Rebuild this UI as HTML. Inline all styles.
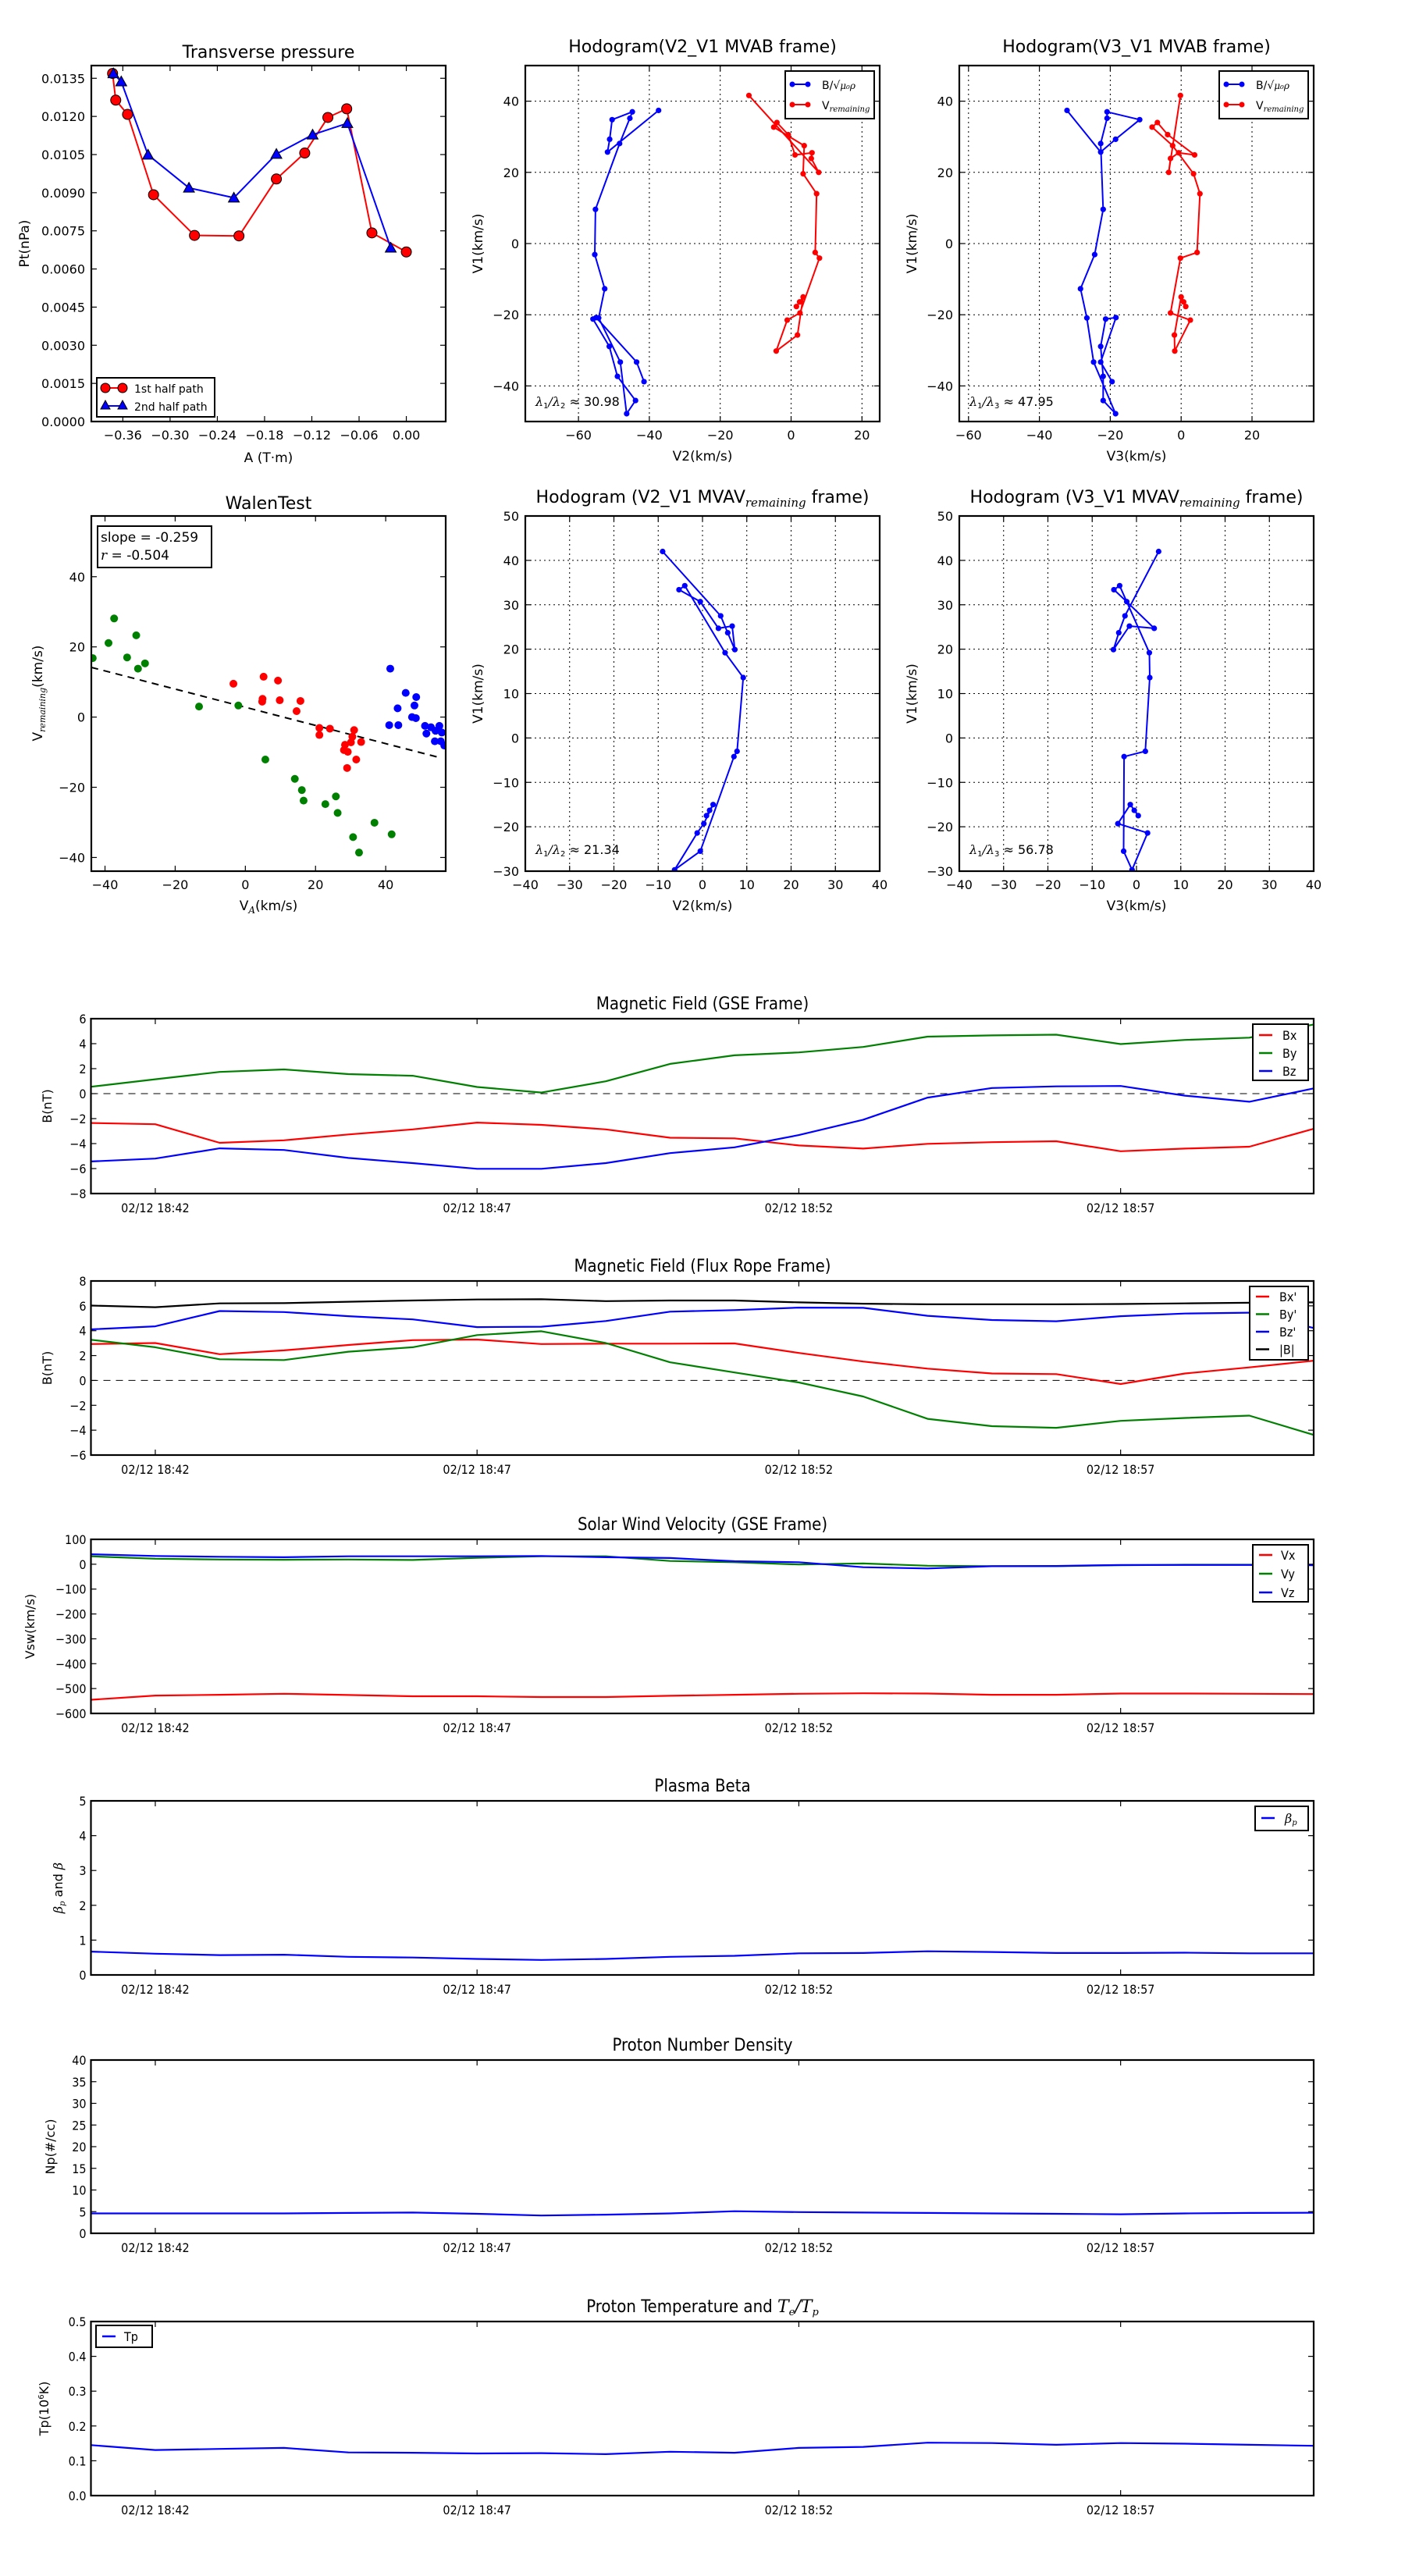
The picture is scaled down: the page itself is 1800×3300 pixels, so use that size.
<!DOCTYPE html>
<html><head><meta charset="utf-8">
<style>
html,body{margin:0;padding:0;background:#fff;}
svg{display:block;}
text{font-family:"DejaVu Sans","Liberation Sans",sans-serif;fill:#000;}
.cd{font-family:"DejaVu Sans Condensed","Liberation Sans Narrow","DejaVu Sans",sans-serif;}
.mi{font-family:"DejaVu Serif","Liberation Serif",serif;font-style:italic;}
</style></head>
<body>
<svg id="chart" width="1800" height="3300" viewBox="0 0 1800 3300" xmlns="http://www.w3.org/2000/svg"></svg>
<script>
// ---------- data ----------
const ptA1=[-0.373,-0.369,-0.354,-0.321,-0.269,-0.2125,-0.165,-0.129,-0.0996,-0.0757,-0.0437,0];
const ptP1=[0.01369,0.01264,0.01208,0.00892,0.00732,0.0073,0.00954,0.01056,0.01196,0.0123,0.00742,0.00667];
const ptA2=[-0.372,-0.362,-0.328,-0.276,-0.219,-0.165,-0.119,-0.0749,-0.0198];
const ptP2=[0.01369,0.01337,0.01049,0.00919,0.0088,0.01052,0.01128,0.01173,0.00683];

const V1B=[37.4,25.7,29.3,34.8,37.0,35.2,28.1,9.6,-3.1,-12.7,-20.9,-33.3,-47.8,-44.1,-37.3,-28.9,-21.2,-20.8,-33.3,-38.8];
const V2B=[-37.4,-51.8,-51.2,-50.5,-44.8,-45.5,-48.4,-55.2,-55.4,-52.6,-54.3,-48.2,-46.4,-43.9,-49.0,-51.3,-55.9,-55.0,-43.6,-41.5];
const V3B=[-32.2,-22.7,-18.5,-11.7,-20.9,-20.9,-22.7,-22.0,-24.4,-28.4,-26.6,-24.7,-18.5,-22.0,-22.0,-22.7,-21.3,-18.4,-22.7,-19.5];
const V1R=[41.6,20.0,23.9,25.5,24.9,30.6,34.0,32.7,27.5,19.6,14.0,-2.5,-4.1,-19.5,-21.5,-30.2,-25.7,-15.0,-16.4,-17.7];
const V2R=[-11.9,7.8,5.7,5.9,1.1,-0.8,-4.0,-4.9,3.7,3.4,7.2,6.8,8.0,2.5,-1.1,-4.2,1.8,3.4,2.4,1.5];
const V3R=[-0.2,-3.5,-3.0,-0.7,3.8,-3.8,-6.7,-8.2,-2.4,3.5,5.3,4.5,-0.2,-3.0,2.6,-1.8,-1.9,0.0,0.7,1.3];

const MV1=[42.0,27.5,23.7,19.9,25.2,24.7,30.7,33.4,34.3,19.2,13.6,-3.0,-4.2,-25.5,-29.7,-21.4,-19.3,-15.0,-16.3,-17.5];
const MV2=[-9.0,4.1,5.7,7.3,6.7,3.6,-0.5,-5.3,-4.0,5.1,9.2,7.8,7.1,-0.5,-6.3,-1.2,0.3,2.4,1.6,0.9];
const MV3=[5.0,-2.6,-4.0,-5.2,-1.6,4.0,-2.2,-5.1,-3.8,2.9,3.0,2.0,-2.8,-2.9,-1.0,2.5,-4.2,-1.4,-0.5,0.4];

const walenGX=[-43.5,-39.0,-37.4,-33.7,-31.1,-30.6,-28.6,-13.2,-2.0,5.7,14.1,16.1,16.6,22.8,25.8,26.3,30.7,32.4,36.8,41.7];
const walenGY=[16.8,21.1,28.1,17.0,23.3,13.8,15.3,3.0,3.3,-12.1,-17.6,-20.8,-23.8,-24.8,-22.6,-27.3,-34.2,-38.6,-30.1,-33.4];
const walenRX=[-3.4,5.2,9.3,4.9,4.8,9.8,15.7,14.6,21.1,21.1,24.1,31.0,30.5,30.1,33.0,28.4,28.1,29.2,31.6,29.0];
const walenRY=[9.5,11.5,10.4,5.2,4.4,4.8,4.6,1.7,-3.1,-5.1,-3.3,-3.7,-5.6,-7.2,-7.1,-7.9,-9.4,-9.9,-12.1,-14.5];
const walenBX=[41.3,45.7,48.7,43.4,48.2,47.5,48.6,41.0,43.6,51.2,51.6,52.9,54.2,55.3,56.0,54.0,55.7,56.7];
const walenBY=[13.8,6.9,5.7,2.5,3.3,0,-0.3,-2.3,-2.3,-2.5,-4.7,-2.9,-3.9,-2.5,-4.4,-6.9,-6.9,-8.1];
const walenSlope=-0.259, walenIntercept=2.8;

const timeMinutes=[0,1,2,3,4,5,6,7,8,9,10,11,12,13,14,15,16,17,18,19]; // minutes after 18:41
const timeTickMin=[1,6,11,16];
const timeTickLabels=["02/12 18:42","02/12 18:47","02/12 18:52","02/12 18:57"];

const gseBx=[-2.35,-2.45,-3.94,-3.74,-3.27,-2.86,-2.32,-2.50,-2.86,-3.53,-3.58,-4.15,-4.40,-4.02,-3.89,-3.81,-4.61,-4.40,-4.25,-2.81];
const gseBy=[0.55,1.15,1.74,1.94,1.56,1.43,0.53,0.09,0.99,2.38,3.07,3.30,3.74,4.56,4.66,4.72,3.97,4.30,4.48,5.54];
const gseBz=[-5.43,-5.20,-4.38,-4.51,-5.15,-5.56,-6.02,-6.02,-5.56,-4.76,-4.30,-3.32,-2.09,-0.32,0.45,0.58,0.61,-0.16,-0.65,0.42];

const frBx=[2.93,3.01,2.11,2.42,2.85,3.24,3.29,2.93,2.96,2.96,2.98,2.21,1.52,0.95,0.56,0.51,-0.29,0.56,1.05,1.59];
const frBy=[3.27,2.67,1.70,1.64,2.31,2.67,3.65,3.96,3.01,1.46,0.64,-0.16,-1.29,-3.09,-3.68,-3.81,-3.25,-3.02,-2.83,-4.38];
const frBz=[4.11,4.35,5.58,5.50,5.17,4.91,4.29,4.32,4.78,5.53,5.66,5.86,5.84,5.20,4.86,4.76,5.17,5.38,5.45,4.22];
const frBt=[6.02,5.89,6.20,6.22,6.33,6.43,6.51,6.53,6.38,6.43,6.43,6.28,6.17,6.12,6.12,6.12,6.15,6.20,6.25,6.28];

const swVx=[-545,-528,-525,-521,-526,-531,-531,-534,-534,-529,-525,-521,-519,-520,-525,-525,-520,-520,-521,-522];
const swVy=[32,22,19,18,19,17,26,32,32,13,8,-1,3,-6,-8,-8,-4,-2,-2,-3];
const swVz=[40,33,30,28,32,32,32,33,28,25,12,8,-12,-17,-8,-7,-3,-3,-3,-4];

const betaP=[0.67,0.61,0.57,0.58,0.52,0.50,0.46,0.43,0.46,0.52,0.55,0.62,0.63,0.68,0.66,0.63,0.63,0.64,0.62,0.62];
const npData=[4.6,4.6,4.6,4.6,4.7,4.8,4.5,4.1,4.3,4.6,5.1,4.9,4.8,4.7,4.6,4.5,4.4,4.6,4.7,4.75];
const tpData=[0.145,0.131,0.134,0.137,0.124,0.123,0.121,0.122,0.119,0.126,0.123,0.137,0.140,0.152,0.151,0.146,0.151,0.149,0.146,0.143];

// ---------- helpers ----------
const NS='http://www.w3.org/2000/svg';
const svg=document.getElementById('chart');
function mk(tag,attrs,name,parent){
  const e=document.createElementNS(NS,tag);
  for(const k in attrs) e.setAttribute(k,attrs[k]);
  
  
  (parent||svg).appendChild(e);
  return e;
}
function txt(x,y,s,size,name,opt){
  opt=opt||{};
  const t=mk('text',{x:x,y:y,'font-size':size,'text-anchor':opt.anchor||'middle'},name,opt.parent);
  if(opt.cls) t.setAttribute('class',opt.cls);
  if(opt.rot) t.setAttribute('transform','rotate(-90 '+x+' '+y+')');
  if(opt.html) t.innerHTML=s; else t.textContent=s;
  return t;
}
function axes(x0,x1,y0,y1,xmin,xmax,ymin,ymax){
  return {x0,x1,y0,y1,
    sx:v=>x0+(v-xmin)/(xmax-xmin)*(x1-x0),
    sy:v=>y1-(v-ymin)/(ymax-ymin)*(y1-y0)};
}
function fmtMinus(v,d){const s=Math.abs(v).toFixed(d);return (v<-1e-12?'\u2212':'')+s;}
function frame(a,name){
  mk('rect',{x:a.x0,y:a.y0,width:a.x1-a.x0,height:a.y1-a.y0,fill:'none',stroke:'#000','stroke-width':2.2},name);
}
function xticks(a,vals,labels,size,opt){
  opt=opt||{};
  vals.forEach((v,i)=>{
    const x=a.sx(v);
    mk('line',{x1:x,x2:x,y1:a.y1,y2:a.y1-7,stroke:'#000','stroke-width':1.2},'x-tick');
    mk('line',{x1:x,x2:x,y1:a.y0,y2:a.y0+7,stroke:'#000','stroke-width':1.2},'x-tick-top');
    if(opt.grid) mk('line',{x1:x,x2:x,y1:a.y0,y2:a.y1,stroke:'#000','stroke-width':1,'stroke-dasharray':'2,4'},'x-grid-line');
    txt(x,a.y1+(opt.dy||23),labels[i],size,'x-tick-label',{cls:opt.cls});
  });
}
function yticks(a,vals,labels,size,opt){
  opt=opt||{};
  vals.forEach((v,i)=>{
    const y=a.sy(v);
    mk('line',{x1:a.x0,x2:a.x0+7,y1:y,y2:y,stroke:'#000','stroke-width':1.2},'y-tick');
    mk('line',{x1:a.x1,x2:a.x1-7,y1:y,y2:y,stroke:'#000','stroke-width':1.2},'y-tick-right');
    if(opt.grid) mk('line',{x1:a.x0,x2:a.x1,y1:y,y2:y,stroke:'#000','stroke-width':1,'stroke-dasharray':'2,4'},'y-grid-line');
    txt(a.x0-(opt.dx||8),y+6,labels[i],size,'y-tick-label',{anchor:'end',cls:opt.cls});
  });
}
function clipFor(a,id){
  let defs=svg.querySelector('defs'); if(!defs) defs=mk('defs',{},'defs');
  const c=mk('clipPath',{id:id},'clip',defs);
  mk('rect',{x:a.x0,y:a.y0,width:a.x1-a.x0,height:a.y1-a.y0},'clip-rect',c);
  return 'url(#'+id+')';
}
function polyline(a,xs,ys,color,name,clip,w){
  const pts=xs.map((x,i)=>a.sx(x).toFixed(1)+','+a.sy(ys[i]).toFixed(1)).join(' ');
  const p=mk('polyline',{points:pts,fill:'none',stroke:color,'stroke-width':w||2,'stroke-linejoin':'round'},name);
  if(clip) p.setAttribute('clip-path',clip);
  return p;
}
function dots(a,xs,ys,color,r,name,clip,stroke){
  const g=mk('g',{},name);
  if(clip) g.setAttribute('clip-path',clip);
  xs.forEach((x,i)=>{
    const c=mk('circle',{cx:a.sx(x),cy:a.sy(ys[i]),r:r,fill:color},'marker',g);
    if(stroke){c.setAttribute('stroke','#000');c.setAttribute('stroke-width',1);}
  });
  return g;
}
function range(a,b,s){const r=[];for(let v=a;v<=b+1e-9;v+=s)r.push(+v.toFixed(6));return r;}

// ---------- Panel 1: transverse pressure ----------
(function(){
  const a=axes(117,571,84,540,-0.40,0.05,0,0.014);
  txt(344,74,'Transverse pressure',22,'transverse-pressure-title');
  const cl=clipFor(a,'c1');
  polyline(a,ptA1,ptP1,'#ff0000','first-half-path-line',cl);
  polyline(a,ptA2,ptP2,'#0000ff','second-half-path-line',cl);
  dots(a,ptA1,ptP1,'#ff0000',6.5,'first-half-path-markers',null,true);
  const g=mk('g',{},'second-half-path-markers');
  ptA2.forEach((x,i)=>{const cx=a.sx(x),cy=a.sy(ptP2[i]);
    mk('polygon',{points:`${cx},${cy-7} ${cx-7},${cy+5.5} ${cx+7},${cy+5.5}`,fill:'#0000ff',stroke:'#000','stroke-width':1},'triangle-marker',g);});
  const xv=range(-0.36,0,0.06);
  xticks(a,xv,xv.map(v=>fmtMinus(v,2)),16);
  const yv=range(0,0.0135,0.0015);
  yticks(a,yv,yv.map(v=>v.toFixed(4)),16);
  frame(a,'pressure-plot-frame');
  txt(344,592,'A (T\u00b7m)',17,'x-axis-title');
  txt(37,312,'Pt(nPa)',17,'y-axis-title',{rot:true});
  const lg=mk('g',{},'legend');
  mk('rect',{x:124,y:484,width:151,height:50,fill:'#fff',stroke:'#000','stroke-width':2},'legend-box',lg);
  mk('line',{x1:135,x2:157,y1:497,y2:497,stroke:'#f00','stroke-width':2},'legend-line',lg);
  mk('circle',{cx:135,cy:497,r:6,fill:'#f00',stroke:'#000'},'legend-marker',lg);
  mk('circle',{cx:157,cy:497,r:6,fill:'#f00',stroke:'#000'},'legend-marker',lg);
  txt(172,503,'1st half path',14,'legend-label',{anchor:'start',parent:lg});
  mk('line',{x1:135,x2:157,y1:520,y2:520,stroke:'#00f','stroke-width':2},'legend-line',lg);
  mk('polygon',{points:'135,513 129,524 141,524',fill:'#00f',stroke:'#000'},'legend-marker',lg);
  mk('polygon',{points:'157,513 151,524 163,524',fill:'#00f',stroke:'#000'},'legend-marker',lg);
  txt(172,526,'2nd half path',14,'legend-label',{anchor:'start',parent:lg});
})();

function hodoLegend(x,y,name){
  const lg=mk('g',{},name);
  mk('rect',{x:x,y:y,width:114,height:61,fill:'#fff',stroke:'#000','stroke-width':2},'legend-box',lg);
  mk('line',{x1:x+9,x2:x+29,y1:y+17,y2:y+17,stroke:'#00f','stroke-width':2},'legend-line',lg);
  mk('circle',{cx:x+9,cy:y+17,r:3.5,fill:'#00f'},'legend-marker',lg);
  mk('circle',{cx:x+29,cy:y+17,r:3.5,fill:'#00f'},'legend-marker',lg);
  txt(x+47,y+23,'B/\u221A<tspan class="mi" font-size="12">\u03bc\u2080\u03c1</tspan>',14,'legend-label',{anchor:'start',parent:lg,html:true});
  mk('line',{x1:x+9,x2:x+29,y1:y+43,y2:y+43,stroke:'#f00','stroke-width':2},'legend-line',lg);
  mk('circle',{cx:x+9,cy:y+43,r:3.5,fill:'#f00'},'legend-marker',lg);
  mk('circle',{cx:x+29,cy:y+43,r:3.5,fill:'#f00'},'legend-marker',lg);
  txt(x+47,y+49,'V<tspan class="mi" font-size="10" dy="3">remaining</tspan>',14,'legend-label',{anchor:'start',parent:lg,html:true});
}
function hodogram(cfg){
  const a=axes(cfg.x0,cfg.x1,cfg.y0,cfg.y1,cfg.xr[0],cfg.xr[1],cfg.yr[0],cfg.yr[1]);
  const cx=(cfg.x0+cfg.x1)/2;
  txt(cx,cfg.y0-17,cfg.title,22,cfg.name+'-title',{html:true});
  xticks(a,cfg.xt,cfg.xt.map(v=>fmtMinus(v,0)),16,{grid:true});
  yticks(a,cfg.yt,cfg.yt.map(v=>fmtMinus(v,0)),16,{grid:true});
  const cl=clipFor(a,cfg.name+'-clip');
  cfg.series.forEach(s=>{
    polyline(a,s.x,s.y,s.c,s.n+'-line',cl);
    dots(a,s.x,s.y,s.c,3.6,s.n+'-points',cl);
  });
  frame(a,cfg.name+'-frame');
  txt(cx,cfg.y1+50,cfg.xl,17,'x-axis-title');
  txt(cfg.x0-55,(cfg.y0+cfg.y1)/2,'V1(km/s)',17,'y-axis-title',{rot:true});
  txt(cfg.x0+13,cfg.lamY,cfg.lam,16,'eigenvalue-ratio',{anchor:'start',html:true});
  if(cfg.legend) hodoLegend(cfg.x1-121,91,'hodogram-legend');
}
hodogram({name:'hodogram-v2v1-mvab',x0:673,x1:1127,y0:84,y1:540,xr:[-75,25],yr:[-50,50],
  xt:[-60,-40,-20,0,20],yt:[-40,-20,0,20,40],title:'Hodogram(V2_V1 MVAB frame)',xl:'V2(km/s)',
  series:[{x:V2B,y:V1B,c:'#0000ff',n:'b-alfven'},{x:V2R,y:V1R,c:'#ff0000',n:'v-remaining'}],
  lam:'<tspan class="mi">\u03bb</tspan><tspan font-size="10" dy="3">1</tspan><tspan dy="-3" class="mi">/\u03bb</tspan><tspan font-size="10" dy="3">2</tspan><tspan dy="-3"> \u2248 30.98</tspan>',lamY:520,legend:true});
hodogram({name:'hodogram-v3v1-mvab',x0:1229,x1:1683,y0:84,y1:540,xr:[-62.6,37.4],yr:[-50,50],
  xt:[-60,-40,-20,0,20],yt:[-40,-20,0,20,40],title:'Hodogram(V3_V1 MVAB frame)',xl:'V3(km/s)',
  series:[{x:V3B,y:V1B,c:'#0000ff',n:'b-alfven'},{x:V3R,y:V1R,c:'#ff0000',n:'v-remaining'}],
  lam:'<tspan class="mi">\u03bb</tspan><tspan font-size="10" dy="3">1</tspan><tspan dy="-3" class="mi">/\u03bb</tspan><tspan font-size="10" dy="3">3</tspan><tspan dy="-3"> \u2248 47.95</tspan>',lamY:520,legend:true});
hodogram({name:'hodogram-v2v1-mvav',x0:673,x1:1127,y0:661,y1:1116,xr:[-40,40],yr:[-30,50],
  xt:range(-40,40,10),yt:range(-30,50,10),title:'Hodogram (V2_V1 MVAV<tspan class="mi" font-size="15" dy="5">remaining</tspan><tspan dy="-5"> frame)</tspan>',xl:'V2(km/s)',
  series:[{x:MV2,y:MV1,c:'#0000ff',n:'v-remaining'}],
  lam:'<tspan class="mi">\u03bb</tspan><tspan font-size="10" dy="3">1</tspan><tspan dy="-3" class="mi">/\u03bb</tspan><tspan font-size="10" dy="3">2</tspan><tspan dy="-3"> \u2248 21.34</tspan>',lamY:1094});
hodogram({name:'hodogram-v3v1-mvav',x0:1229,x1:1683,y0:661,y1:1116,xr:[-40,40],yr:[-30,50],
  xt:range(-40,40,10),yt:range(-30,50,10),title:'Hodogram (V3_V1 MVAV<tspan class="mi" font-size="15" dy="5">remaining</tspan><tspan dy="-5"> frame)</tspan>',xl:'V3(km/s)',
  series:[{x:MV3,y:MV1,c:'#0000ff',n:'v-remaining'}],
  lam:'<tspan class="mi">\u03bb</tspan><tspan font-size="10" dy="3">1</tspan><tspan dy="-3" class="mi">/\u03bb</tspan><tspan font-size="10" dy="3">3</tspan><tspan dy="-3"> \u2248 56.78</tspan>',lamY:1094});

// ---------- Walen test ----------
(function(){
  const a=axes(117,571,661,1116,-43.9,57.1,-43.9,57.3);
  txt(344,652,'WalenTest',22,'walen-test-title');
  const cl=clipFor(a,'cw');
  const xr=[-43.9,55];
  const l=mk('line',{x1:a.sx(xr[0]),y1:a.sy(walenIntercept+walenSlope*xr[0]),x2:a.sx(xr[1]),y2:a.sy(walenIntercept+walenSlope*xr[1]),stroke:'#000','stroke-width':2,'stroke-dasharray':'9,7'},'fit-line');
  l.setAttribute('clip-path',cl);
  dots(a,walenGX,walenGY,'#008000',5,'green-points',cl);
  dots(a,walenRX,walenRY,'#ff0000',5,'red-points',cl);
  dots(a,walenBX,walenBY,'#0000ff',5,'blue-points',cl);
  const v=[-40,-20,0,20,40];
  xticks(a,v,v.map(x=>fmtMinus(x,0)),16);
  yticks(a,v,v.map(x=>fmtMinus(x,0)),16);
  frame(a,'walen-frame');
  mk('rect',{x:125,y:674,width:146,height:53,fill:'#fff',stroke:'#000','stroke-width':2},'stats-box');
  txt(129,694,'slope = -0.259',17,'slope-text',{anchor:'start'});
  txt(129,717,'<tspan class="mi">r</tspan> = -0.504',17,'r-text',{anchor:'start',html:true});
  txt(344,1166,'V<tspan class="mi" font-size="12" dy="4">A</tspan><tspan dy="-4">(km/s)</tspan>',17,'x-axis-title',{html:true});
  txt(54,888,'V<tspan class="mi" font-size="11" dy="4">remaining</tspan><tspan dy="-4">(km/s)</tspan>',17,'y-axis-title',{rot:true,html:true});
})();

// ---------- time series ----------
function tsPanel(cfg){
  const a=axes(116.5,1683,cfg.y0,cfg.y1,0,19,cfg.yr[0],cfg.yr[1]);
  txt(900,cfg.y0-12,cfg.title,22,cfg.name+'-title',{cls:'cd',html:true});
  if(cfg.zero){const z=a.sy(0);mk('line',{x1:a.x0,x2:a.x1,y1:z,y2:z,stroke:'#000','stroke-width':1,'stroke-dasharray':'9,7'},'zero-line');}
  const cl=clipFor(a,cfg.name+'-clip');
  cfg.series.forEach(s=>polyline(a,timeMinutes,s.y,s.c,s.n+'-line',cl,2.2));
  xticks(a,timeTickMin,timeTickLabels,16,{cls:'cd',dy:24});
  yticks(a,cfg.yt,cfg.yt.map(cfg.fmt),16,{cls:'cd',dx:6});
  frame(a,cfg.name+'-frame');
  txt(cfg.ylx,(cfg.y0+cfg.y1)/2,cfg.yl,16,'y-axis-title',{rot:true,html:true});
  if(cfg.legend){
    const L=cfg.legend, lg=mk('g',{},'legend');
    mk('rect',{x:L.x,y:L.y,width:L.w,height:L.h,fill:'#fff',stroke:'#000','stroke-width':2},'legend-box',lg);
    cfg.series.forEach((s,i)=>{
      const yy=L.y+L.first+i*L.step;
      mk('line',{x1:L.x+8,x2:L.x+25,y1:yy,y2:yy,stroke:s.c,'stroke-width':2.5},'legend-line',lg);
      txt(L.x+L.tx,yy+6,s.label,16,'legend-label',{anchor:'start',cls:'cd',parent:lg,html:true});
    });
  }
}
const nf=v=>fmtMinus(v,0);
tsPanel({name:'magnetic-field-gse',y0:1305,y1:1529,yr:[-8,6],yt:range(-8,6,2),fmt:nf,zero:true,
  title:'Magnetic Field (GSE Frame)',yl:'B(nT)',ylx:66,
  series:[{y:gseBx,c:'#ff0000',n:'bx',label:'Bx'},{y:gseBy,c:'#008000',n:'by',label:'By'},{y:gseBz,c:'#0000ff',n:'bz',label:'Bz'}],
  legend:{x:1605,y:1312,w:71,h:72,first:14,step:23,tx:38}});
tsPanel({name:'magnetic-field-flux-rope',y0:1641,y1:1864,yr:[-6,8],yt:range(-6,8,2),fmt:nf,zero:true,
  title:'Magnetic Field (Flux Rope Frame)',yl:'B(nT)',ylx:66,
  series:[{y:frBx,c:'#ff0000',n:'bx-prime',label:"Bx'"},{y:frBy,c:'#008000',n:'by-prime',label:"By'"},{y:frBz,c:'#0000ff',n:'bz-prime',label:"Bz'"},{y:frBt,c:'#000000',n:'b-magnitude',label:'|B|'}],
  legend:{x:1601,y:1648,w:75,h:94,first:13,step:22.5,tx:38}});
tsPanel({name:'solar-wind-velocity',y0:1972,y1:2195,yr:[-600,100],yt:range(-600,100,100),fmt:nf,
  title:'Solar Wind Velocity (GSE Frame)',yl:'Vsw(km/s)',ylx:44,
  series:[{y:swVx,c:'#ff0000',n:'vx',label:'Vx'},{y:swVy,c:'#008000',n:'vy',label:'Vy'},{y:swVz,c:'#0000ff',n:'vz',label:'Vz'}],
  legend:{x:1605,y:1979,w:71,h:73,first:13,step:24,tx:36}});
tsPanel({name:'plasma-beta',y0:2307,y1:2530,yr:[0,5],yt:range(0,5,1),fmt:v=>v.toFixed(0),
  title:'Plasma Beta',yl:'<tspan class="mi">\u03b2</tspan><tspan font-size="10" class="mi" dy="3">p</tspan><tspan dy="-3"> and </tspan><tspan class="mi">\u03b2</tspan>',ylx:80,
  series:[{y:betaP,c:'#0000ff',n:'beta-p',label:'<tspan class="mi">\u03b2</tspan><tspan font-size="10" class="mi" dy="3">p</tspan>'}],
  legend:{x:1608,y:2314,w:68,h:31,first:15,step:0,tx:38}});
tsPanel({name:'proton-number-density',y0:2639,y1:2861,yr:[0,40],yt:range(0,40,5),fmt:v=>v.toFixed(0),
  title:'Proton Number Density',yl:'Np(#/cc)',ylx:70,
  series:[{y:npData,c:'#0000ff',n:'np'}]});
tsPanel({name:'proton-temperature',y0:2974,y1:3197,yr:[0,0.5],yt:range(0,0.5,0.1),fmt:v=>v.toFixed(1),
  title:'Proton Temperature and <tspan class="mi">T</tspan><tspan class="mi" font-size="13" dy="4">e</tspan><tspan class="mi" dy="-4">/T</tspan><tspan class="mi" font-size="13" dy="4">p</tspan>',yl:'Tp(10<tspan font-size="10" dy="-6">6</tspan><tspan dy="6">K)</tspan>',ylx:62,
  series:[{y:tpData,c:'#0000ff',n:'tp',label:'Tp'}],
  legend:{x:123,y:2979,w:72,h:28,first:14,step:0,tx:36}});
</script>
</body></html>
